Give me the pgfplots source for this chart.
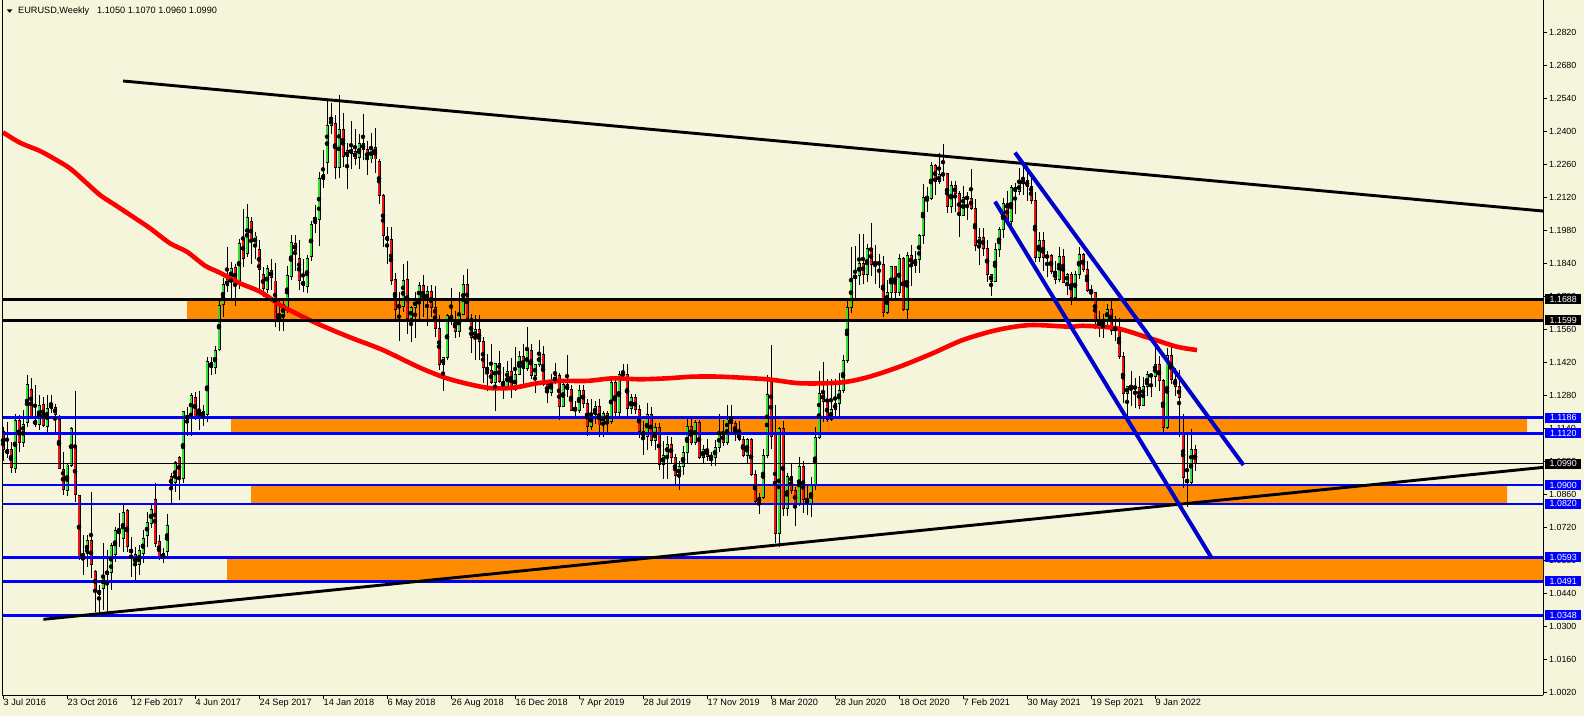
\documentclass[border=0pt]{standalone}
\usepackage{fontspec}
\setmainfont{Liberation Sans}
\usepackage{pgfplots}
\usepackage{pgfplotstable}
\pgfplotsset{compat=1.18}
\definecolor{bg}{RGB}{245,245,220}
\definecolor{zone}{RGB}{255,140,0}
\definecolor{hblue}{RGB}{0,0,255}
\definecolor{chblue}{RGB}{0,0,205}
\definecolor{cgreen}{RGB}{50,220,50}
\definecolor{cred}{RGB}{230,20,20}
\definecolor{mared}{RGB}{255,0,0}

\pgfplotstableread{
w O H L C
0 1.1127 1.1148 1.1000 1.1052
1 1.1052 1.1169 1.1016 1.1032
2 1.1049 1.1084 1.0953 1.0975
3 1.0971 1.1200 1.0950 1.1172
4 1.1172 1.1197 1.1042 1.1080
5 1.1081 1.1218 1.1063 1.1158
6 1.1165 1.1367 1.1148 1.1325
7 1.1306 1.1353 1.1179 1.1183
8 1.1176 1.1325 1.1148 1.1155
9 1.1158 1.1282 1.1134 1.1236
10 1.1240 1.1275 1.1148 1.1151
11 1.1148 1.1282 1.1120 1.1226
12 1.1226 1.1282 1.1204 1.1244
13 1.1230 1.1244 1.1120 1.1200
14 1.1180 1.1197 1.0968 1.0971
15 1.0967 1.1042 1.0858 1.0882
16 1.0879 1.0992 1.0854 1.0985
17 1.0985 1.1148 1.0978 1.1141
18 1.1060 1.1299 1.0829 1.0858
19 1.0855 1.0858 1.0582 1.0589
20 1.0593 1.0688 1.0518 1.0585
21 1.0610 1.0688 1.0554 1.0663
22 1.0663 1.0872 1.0504 1.0561
23 1.0532 1.0540 1.0362 1.0450
24 1.0437 1.0476 1.0362 1.0454
25 1.0462 1.0653 1.0370 1.0516
26 1.0521 1.0624 1.0341 1.0535
27 1.0529 1.0653 1.0455 1.0642
28 1.0606 1.0723 1.0575 1.0705
29 1.0705 1.0780 1.0638 1.0698
30 1.0674 1.0825 1.0617 1.0784
31 1.0790 1.0800 1.0617 1.0638
32 1.0627 1.0681 1.0511 1.0613
33 1.0606 1.0638 1.0490 1.0558
34 1.0564 1.0646 1.0518 1.0621
35 1.0610 1.0709 1.0568 1.0674
36 1.0685 1.0787 1.0638 1.0741
37 1.0738 1.0815 1.0716 1.0798
38 1.0840 1.0907 1.0638 1.0653
39 1.0662 1.0688 1.0582 1.0589
40 1.0589 1.0631 1.0568 1.0610
41 1.0617 1.0777 1.0596 1.0730
42 1.0935 1.0950 1.0822 1.0896
43 1.0910 1.1000 1.0872 1.0996
44 1.1018 1.1023 1.0836 1.0931
45 1.0927 1.1216 1.0907 1.1210
46 1.1197 1.1230 1.1110 1.1179
47 1.1197 1.1289 1.1108 1.1282
48 1.1272 1.1296 1.1175 1.1193
49 1.1211 1.1299 1.1134 1.1193
50 1.1211 1.1240 1.1150 1.1193
51 1.1200 1.1445 1.1169 1.1426
52 1.1420 1.1445 1.1367 1.1399
53 1.1399 1.1490 1.1370 1.1469
54 1.1476 1.1680 1.1470 1.1664
55 1.1668 1.1778 1.1612 1.1752
56 1.1746 1.1912 1.1718 1.1771
57 1.1773 1.1845 1.1690 1.1820
58 1.1824 1.1838 1.1661 1.1759
59 1.1756 1.1943 1.1731 1.1926
60 1.1947 1.2070 1.1824 1.1862
61 1.1884 1.2092 1.1869 1.2036
62 1.2019 1.2036 1.1837 1.1937
63 1.1922 1.1975 1.1858 1.1957
64 1.1900 1.1940 1.1717 1.1816
65 1.1794 1.1827 1.1700 1.1735
66 1.1730 1.1834 1.1714 1.1820
67 1.1810 1.1860 1.1730 1.1782
68 1.1766 1.1841 1.1572 1.1603
69 1.1603 1.1688 1.1555 1.1610
70 1.1615 1.1680 1.1555 1.1667
71 1.1647 1.1828 1.1631 1.1791
72 1.1785 1.1961 1.1770 1.1930
73 1.1926 1.1960 1.1810 1.1895
74 1.1862 1.1940 1.1730 1.1770
75 1.1766 1.1860 1.1720 1.1746
76 1.1742 1.1875 1.1716 1.1862
77 1.1869 1.2020 1.1850 1.2004
78 1.2009 1.2090 1.1970 1.2028
79 1.2028 1.2230 1.1915 1.2199
80 1.2195 1.2320 1.2160 1.2219
81 1.2270 1.2537 1.2220 1.2428
82 1.2425 1.2520 1.2390 1.2456
83 1.2435 1.2470 1.2200 1.2247
84 1.2247 1.2555 1.2205 1.2407
85 1.2407 1.2478 1.2251 1.2294
86 1.2294 1.2352 1.2155 1.2318
87 1.2325 1.2445 1.2240 1.2308
88 1.2315 1.2410 1.2258 1.2287
89 1.2290 1.2388 1.2240 1.2350
90 1.2350 1.2476 1.2280 1.2325
91 1.2325 1.2360 1.2215 1.2280
92 1.2284 1.2396 1.2265 1.2329
93 1.2333 1.2414 1.2223 1.2284
94 1.2275 1.2285 1.2093 1.2128
95 1.2127 1.2136 1.1910 1.1959
96 1.1957 1.1996 1.1838 1.1937
97 1.1943 1.1996 1.1750 1.1768
98 1.1773 1.1800 1.1605 1.1647
99 1.1660 1.1720 1.1510 1.1657
100 1.1657 1.1840 1.1635 1.1770
101 1.1773 1.1850 1.1542 1.1605
102 1.1605 1.1660 1.1508 1.1654
103 1.1654 1.1720 1.1525 1.1685
104 1.1685 1.1760 1.1590 1.1745
105 1.1745 1.1790 1.1615 1.1685
106 1.1685 1.1745 1.1575 1.1720
107 1.1720 1.1750 1.1615 1.1655
108 1.1655 1.1745 1.1530 1.1565
109 1.1565 1.1620 1.1390 1.1410
110 1.1410 1.1445 1.1301 1.1440
111 1.1440 1.1625 1.1430 1.1620
112 1.1620 1.1735 1.1580 1.1600
113 1.1600 1.1640 1.1526 1.1550
114 1.1550 1.1720 1.1530 1.1625
115 1.1625 1.1790 1.1620 1.1750
116 1.1750 1.1815 1.1600 1.1605
117 1.1605 1.1625 1.1460 1.1525
118 1.1525 1.1620 1.1430 1.1560
119 1.1560 1.1620 1.1430 1.1510
120 1.1510 1.1530 1.1335 1.1400
121 1.1400 1.1455 1.1300 1.1385
122 1.1385 1.1500 1.1330 1.1335
123 1.1335 1.1420 1.1215 1.1415
124 1.1415 1.1470 1.1335 1.1340
125 1.1340 1.1400 1.1265 1.1315
126 1.1315 1.1425 1.1310 1.1380
127 1.1380 1.1440 1.1270 1.1305
128 1.1305 1.1485 1.1300 1.1370
129 1.1370 1.1470 1.1365 1.1445
130 1.1445 1.1500 1.1310 1.1395
131 1.1395 1.1570 1.1385 1.1470
132 1.1470 1.1500 1.1350 1.1365
133 1.1365 1.1415 1.1290 1.1410
134 1.1410 1.1515 1.1400 1.1455
135 1.1455 1.1490 1.1320 1.1325
136 1.1325 1.1345 1.1250 1.1295
137 1.1295 1.1370 1.1280 1.1335
138 1.1335 1.1420 1.1330 1.1365
139 1.1365 1.1375 1.1175 1.1235
140 1.1235 1.1340 1.1230 1.1325
141 1.1325 1.1450 1.1275 1.1305
142 1.1305 1.1325 1.1215 1.1218
143 1.1230 1.1255 1.1185 1.1215
144 1.1215 1.1325 1.1205 1.1300
145 1.1300 1.1325 1.1225 1.1245
146 1.1245 1.1265 1.1110 1.1150
147 1.1150 1.1265 1.1135 1.1200
148 1.1200 1.1255 1.1160 1.1235
149 1.1235 1.1265 1.1105 1.1155
150 1.1155 1.1215 1.1105 1.1205
151 1.1205 1.1215 1.1115 1.1170
152 1.1170 1.1348 1.1160 1.1334
153 1.1334 1.1348 1.1180 1.1210
154 1.1210 1.1385 1.1180 1.1369
155 1.1369 1.1412 1.1345 1.1371
156 1.1371 1.1412 1.1192 1.1225
157 1.1225 1.1285 1.1200 1.1270
158 1.1270 1.1285 1.1200 1.1219
159 1.1219 1.1240 1.1100 1.1127
160 1.1127 1.1170 1.1027 1.1108
161 1.1108 1.1250 1.1050 1.1201
162 1.1201 1.1230 1.1065 1.1091
163 1.1091 1.1165 1.1050 1.1143
164 1.1143 1.1165 1.0965 1.0989
165 1.0989 1.1085 1.0925 1.1027
166 1.1027 1.1110 1.0927 1.1074
167 1.1074 1.1105 1.0990 1.1017
168 1.1017 1.1030 1.0905 1.0940
169 1.0940 1.1000 1.0880 1.0979
170 1.0979 1.1065 1.0942 1.1040
171 1.1040 1.1180 1.0995 1.1150
172 1.1150 1.1180 1.1072 1.1080
173 1.1080 1.1175 1.1072 1.1165
174 1.1165 1.1178 1.1012 1.1018
175 1.1018 1.1070 1.0990 1.1052
176 1.1052 1.1095 1.1000 1.1022
177 1.1022 1.1040 1.0980 1.1018
178 1.1018 1.1090 1.0980 1.1059
179 1.1059 1.1200 1.1040 1.1121
180 1.1121 1.1175 1.1065 1.1080
181 1.1080 1.1240 1.1070 1.1176
182 1.1176 1.1240 1.1125 1.1160
183 1.1160 1.1170 1.1085 1.1120
184 1.1120 1.1172 1.1085 1.1092
185 1.1092 1.1110 1.1020 1.1025
186 1.1025 1.1100 1.0995 1.1094
187 1.1094 1.1100 1.0940 1.0944
188 1.0944 1.0965 1.0825 1.0830
189 1.0830 1.0865 1.0778 1.0847
190 1.0847 1.1055 1.0840 1.1026
191 1.1026 1.1365 1.1015 1.1284
192 1.1353 1.1495 1.1055 1.1108
193 1.1122 1.1240 1.0655 1.0695
194 1.0695 1.1147 1.0636 1.1141
195 1.1141 1.1170 1.0770 1.0801
196 1.0801 1.0950 1.0770 1.0935
197 1.0935 1.0990 1.0860 1.0875
198 1.0875 1.0890 1.0727 1.0820
199 1.0820 1.1020 1.0810 1.0980
200 1.0980 1.1000 1.0780 1.0840
201 1.0840 1.0900 1.0775 1.0819
202 1.0819 1.0935 1.0766 1.0901
203 1.0901 1.1145 1.0880 1.1100
204 1.1100 1.1385 1.1095 1.1290
205 1.1290 1.1422 1.1168 1.1256
206 1.1256 1.1350 1.1168 1.1180
207 1.1180 1.1350 1.1170 1.1220
208 1.1220 1.1350 1.1185 1.1247
209 1.1247 1.1375 1.1185 1.1300
210 1.1300 1.1452 1.1290 1.1428
211 1.1428 1.1690 1.1420 1.1655
212 1.1655 1.1909 1.1630 1.1778
213 1.1778 1.1915 1.1695 1.1790
214 1.1790 1.1965 1.1750 1.1841
215 1.1841 1.1966 1.1753 1.1795
216 1.1795 1.1925 1.1760 1.1903
217 1.1903 1.2011 1.1789 1.1838
218 1.1838 1.1917 1.1752 1.1845
219 1.1845 1.1882 1.1737 1.1838
220 1.1838 1.1872 1.1612 1.1632
221 1.1632 1.1770 1.1625 1.1716
222 1.1716 1.1831 1.1690 1.1826
223 1.1826 1.1830 1.1689 1.1719
224 1.1719 1.1881 1.1703 1.1860
225 1.1860 1.1870 1.1640 1.1647
226 1.1647 1.1891 1.1603 1.1876
227 1.1876 1.1920 1.1745 1.1833
228 1.1833 1.1893 1.1800 1.1856
229 1.1856 1.1965 1.1801 1.1961
230 1.1961 1.2178 1.1923 1.2122
231 1.2122 1.2163 1.2059 1.2116
232 1.2116 1.2273 1.2110 1.2256
233 1.2256 1.2262 1.2130 1.2188
234 1.2188 1.2310 1.2177 1.2216
235 1.2216 1.2349 1.2192 1.2221
236 1.2221 1.2222 1.2054 1.2082
237 1.2082 1.2190 1.2053 1.2170
238 1.2170 1.2190 1.2060 1.2136
239 1.2136 1.2150 1.1952 1.2045
240 1.2045 1.2170 1.2040 1.2120
241 1.2120 1.2145 1.2023 1.2118
242 1.2118 1.2243 1.2068 1.2075
243 1.2075 1.2113 1.1894 1.1915
244 1.1915 1.1990 1.1835 1.1952
245 1.1952 1.1989 1.1873 1.1906
246 1.1906 1.1942 1.1762 1.1794
247 1.1794 1.1795 1.1704 1.1764
248 1.1764 1.1927 1.1760 1.1899
249 1.1899 1.1994 1.1868 1.1983
250 1.1983 1.2117 1.1950 1.2096
251 1.2096 1.2150 1.2017 1.2020
252 1.2020 1.2173 1.1986 1.2164
253 1.2164 1.2181 1.2051 1.2145
254 1.2145 1.2245 1.2130 1.2180
255 1.2180 1.2266 1.2133 1.2192
256 1.2192 1.2254 1.2104 1.2167
257 1.2167 1.2218 1.2093 1.2107
258 1.2107 1.2145 1.1847 1.1864
259 1.1864 1.1975 1.1848 1.1937
260 1.1937 1.1975 1.1807 1.1865
261 1.1865 1.1895 1.1782 1.1875
262 1.1875 1.1880 1.1795 1.1808
263 1.1808 1.1850 1.1752 1.1771
264 1.1771 1.1909 1.1760 1.1870
265 1.1870 1.1900 1.1760 1.1761
266 1.1761 1.1800 1.1705 1.1795
267 1.1795 1.1805 1.1664 1.1698
268 1.1698 1.1810 1.1690 1.1795
269 1.1795 1.1909 1.1776 1.1880
270 1.1880 1.1885 1.1803 1.1814
271 1.1814 1.1849 1.1720 1.1727
272 1.1727 1.1750 1.1684 1.1719
273 1.1719 1.1720 1.1563 1.1597
274 1.1597 1.1640 1.1529 1.1572
275 1.1572 1.1624 1.1524 1.1603
276 1.1603 1.1670 1.1574 1.1644
277 1.1644 1.1692 1.1535 1.1557
278 1.1557 1.1616 1.1512 1.1567
279 1.1567 1.1608 1.1433 1.1446
280 1.1446 1.1464 1.1250 1.1288
281 1.1288 1.1320 1.1186 1.1318
282 1.1318 1.1383 1.1236 1.1315
283 1.1315 1.1355 1.1228 1.1313
284 1.1313 1.1362 1.1222 1.1239
285 1.1239 1.1360 1.1234 1.1320
286 1.1320 1.1386 1.1279 1.1370
287 1.1370 1.1375 1.1272 1.1360
288 1.1360 1.1482 1.1315 1.1412
289 1.1412 1.1449 1.1300 1.1345
290 1.1345 1.1350 1.1121 1.1145
291 1.1145 1.1483 1.1140 1.1450
292 1.1450 1.1495 1.1330 1.1347
293 1.1347 1.1395 1.1280 1.1320
294 1.1320 1.1390 1.1106 1.1270
295 1.1122 1.1200 1.0886 1.0933
296 1.0924 1.1121 1.0805 1.0910
297 1.0910 1.1137 1.0900 1.1050
298 1.1050 1.1070 1.0960 1.0990
}\candles

\pgfplotstableread{
w p
0 1.2397
4.25 1.2353
9.25 1.2318
13 1.2283
16.75 1.2244
20.5 1.2188
24.25 1.2131
28 1.2089
31.75 1.2047
36.75 1.1990
41.75 1.1926
46 1.1890
50.5 1.1831
54.25 1.1801
59.25 1.1756
64.25 1.1721
70 1.1657
78.5 1.1586
86.75 1.1527
95 1.1473
104.25 1.1398
111.75 1.1349
121 1.1313
127.5 1.1313
133.5 1.1332
139.25 1.1342
146 1.1342
152.5 1.1353
159.25 1.1349
166 1.1353
172.5 1.1360
179.25 1.1360
191 1.1349
199.25 1.1332
209.25 1.1335
216 1.1357
224.25 1.1403
232.5 1.1460
240 1.1516
248.5 1.1558
256.75 1.1579
266.75 1.1572
270 1.1576
278.5 1.1565
286.75 1.1523
293.5 1.1487
298.5 1.1473
}\matable

\begin{document}
\begin{tikzpicture}
\fill[bg] (0,0) rectangle (1584bp,716bp);
\path[use as bounding box] (0,0) rectangle (1584bp,716bp);
\begin{axis}[
  at={(2bp,21bp)}, anchor=south west,
  width=1541bp, height=695bp, scale only axis,
  xmin=-0.25, xmax=385, ymin=1.00089, ymax=1.29588,
  clip=false,
  axis x line*=bottom, axis y line*=right,
  axis line style={black, line width=0.9bp},
  tick align=outside, major tick length=4bp,
  tick style={black, line width=0.8bp},
  /pgf/number format/assume math mode=true,
  ytick={1.0020,1.0160,1.0300,1.0440,1.0580,1.0720,1.0860,1.1000,1.1140,1.1280,1.1420,1.1560,1.1700,1.1840,1.1980,1.2120,1.2260,1.2400,1.2540,1.2680,1.2820},
  yticklabels={1.0020,1.0160,1.0300,1.0440,1.0580,1.0720,1.0860,1.1000,1.1140,1.1280,1.1420,1.1560,1.1700,1.1840,1.1980,1.2120,1.2260,1.2400,1.2540,1.2680,1.2820},
  xtick={0,16,32,48,64,80,96,112,128,144,160,176,192,208,224,240,256,272,288},
  xticklabels={3 Jul 2016,23 Oct 2016,12 Feb 2017,4 Jun 2017,24 Sep 2017,14 Jan 2018,6 May 2018,26 Aug 2018,16 Dec 2018,7 Apr 2019,28 Jul 2019,17 Nov 2019,8 Mar 2020,28 Jun 2020,18 Oct 2020,7 Feb 2021,30 May 2021,19 Sep 2021,9 Jan 2022},
  yticklabel style={font=\fontsize{8.9}{10}\selectfont, anchor=west, inner sep=0pt, xshift=2bp},
  xticklabel style={font=\fontsize{9.2}{10}\selectfont, anchor=north west, inner sep=0pt, xshift=0.5bp},
  error bars/error mark=none,
]
% zones
\addplot[fill=zone, draw=none, forget plot] coordinates {(46,1.1599) (385,1.1599) (385,1.1688) (46,1.1688) (46,1.1599)};
\addplot[fill=zone, draw=none, forget plot] coordinates {(57,1.1120) (381,1.1120) (381,1.1186) (57,1.1186) (57,1.1120)};
\addplot[fill=zone, draw=none, forget plot] coordinates {(62,1.0820) (376,1.0820) (376,1.0900) (62,1.0900) (62,1.0820)};
\addplot[fill=zone, draw=none, forget plot] coordinates {(56,1.0491) (385,1.0491) (385,1.0593) (56,1.0593) (56,1.0491)};
% wicks
\addplot[only marks, mark=none, forget plot,
  error bars/.cd, y dir=both, y explicit, error bar style={draw=black, line width=0.9bp}]
  table[x=w, y expr={0.5*(\thisrow{H}+\thisrow{L})}, y error expr={0.5*(\thisrow{H}-\thisrow{L})}] {\candles};
% body outline
\addplot[only marks, mark=none, forget plot,
  error bars/.cd, y dir=both, y explicit, error bar style={draw=black, line width=3.0bp}]
  table[x=w, y expr={0.5*(\thisrow{O}+\thisrow{C})}, y error expr={0.5*abs(\thisrow{O}-\thisrow{C})+0.00022}] {\candles};
% bullish fill
\addplot[only marks, mark=none, forget plot,
  restrict expr to domain={\thisrow{C}-\thisrow{O}}{0:10},
  error bars/.cd, y dir=both, y explicit, error bar style={draw=cgreen, line width=1.6bp}]
  table[x=w, y expr={0.5*(\thisrow{O}+\thisrow{C})}, y error expr={max(0.5*abs(\thisrow{O}-\thisrow{C})-0.0002,0)}] {\candles};
% bearish fill
\addplot[only marks, mark=none, forget plot,
  restrict expr to domain={\thisrow{O}-\thisrow{C}}{0.00001:10},
  error bars/.cd, y dir=both, y explicit, error bar style={draw=cred, line width=1.6bp}]
  table[x=w, y expr={0.5*(\thisrow{O}+\thisrow{C})}, y error expr={max(0.5*abs(\thisrow{O}-\thisrow{C})-0.0002,0)}] {\candles};
% moving average
\addplot[mared, line width=4.6bp, line join=round, smooth, tension=0.5, forget plot] table[x=w, y=p] {\matable};
% horizontal levels
\addplot[black, line width=2.8bp, forget plot] coordinates {(-0.25,1.1688) (385,1.1688)};
\addplot[black, line width=2.8bp, forget plot] coordinates {(-0.25,1.1599) (385,1.1599)};
\addplot[black, line width=0.9bp, forget plot] coordinates {(-0.25,1.0990) (385,1.0990)};
\addplot[hblue, line width=2.8bp, forget plot] coordinates {(-0.25,1.1186) (385,1.1186)};
\addplot[hblue, line width=2.8bp, forget plot] coordinates {(-0.25,1.1120) (385,1.1120)};
\addplot[hblue, line width=2.8bp, forget plot] coordinates {(-0.25,1.0900) (385,1.0900)};
\addplot[hblue, line width=2.8bp, forget plot] coordinates {(-0.25,1.0820) (385,1.0820)};
\addplot[hblue, line width=2.8bp, forget plot] coordinates {(-0.25,1.0593) (385,1.0593)};
\addplot[hblue, line width=2.8bp, forget plot] coordinates {(-0.25,1.0491) (385,1.0491)};
\addplot[hblue, line width=2.8bp, forget plot] coordinates {(-0.25,1.0348) (385,1.0348)};
% trend lines
\addplot[black, line width=2.9bp, forget plot] coordinates {(30,1.2615) (385,1.2063)};
\addplot[black, line width=2.9bp, forget plot] coordinates {(10.1,1.0330) (385,1.0975)};
% channel
\addplot[chblue, line width=4bp, forget plot] coordinates {(253,1.2311) (310.1,1.0985)};
\addplot[chblue, line width=4bp, forget plot] coordinates {(248,1.2103) (302.2,1.0589)};
% label anchors
\coordinate (l1688) at (axis cs:385,1.1688);
\coordinate (l1599) at (axis cs:385,1.1599);
\coordinate (l1186) at (axis cs:385,1.1186);
\coordinate (l1120) at (axis cs:385,1.1120);
\coordinate (l0990) at (axis cs:385,1.0990);
\coordinate (l0900) at (axis cs:385,1.0900);
\coordinate (l0820) at (axis cs:385,1.0820);
\coordinate (l0593) at (axis cs:385,1.0593);
\coordinate (l0491) at (axis cs:385,1.0491);
\coordinate (l0348) at (axis cs:385,1.0348);
\end{axis}
\draw[black, line width=0.9bp] (2.4bp,21bp) -- (2.4bp,716bp);
\tikzset{lab/.style={text=white, minimum width=36bp, minimum height=10bp, inner sep=0pt, anchor=west, xshift=2bp, font=\fontsize{8.9}{10}\selectfont}}
\node[lab, fill=black] at (l1688) {1.1688};
\node[lab, fill=black] at (l1599) {1.1599};
\node[lab, fill=hblue] at (l1186) {1.1186};
\node[lab, fill=hblue] at (l1120) {1.1120};
\node[lab, fill=black] at (l0990) {1.0990};
\node[lab, fill=hblue] at (l0900) {1.0900};
\node[lab, fill=hblue] at (l0820) {1.0820};
\node[lab, fill=hblue] at (l0593) {1.0593};
\node[lab, fill=hblue] at (l0491) {1.0491};
\node[lab, fill=hblue] at (l0348) {1.0348};
% header
\fill[black] (6.8bp,706.6bp) -- (12.4bp,706.6bp) -- (9.6bp,703.2bp) -- cycle;
\node[anchor=base west, inner sep=0pt, font=\fontsize{9.2}{10}\selectfont] at (18bp,702bp) {EURUSD,Weekly};
\node[anchor=base west, inner sep=0pt, font=\fontsize{9.2}{10}\selectfont] at (97bp,702bp) {1.1050 1.1070 1.0960 1.0990};
\end{tikzpicture}
\end{document}
